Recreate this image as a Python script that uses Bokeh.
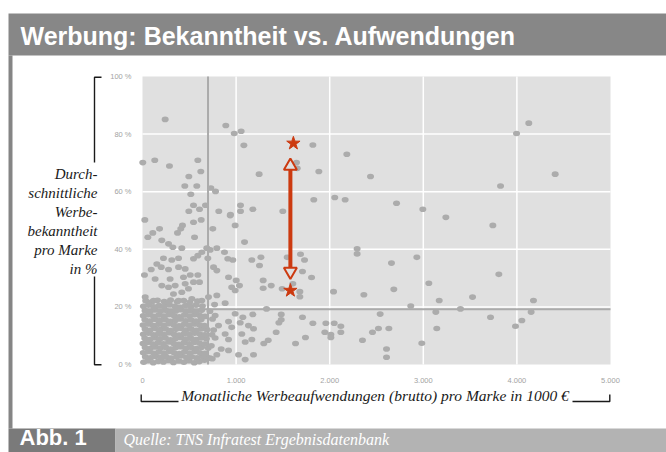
from bokeh.plotting import figure
from bokeh.models import Range1d, ColumnDataSource
from bokeh.core.properties import value
from bokeh.embed import file_html
from bokeh.resources import INLINE

# ---------------- data (spend in 1000 EUR per month, awareness in %) ----------------
dense_block = [
    (12, 0.8), (58, 1.3), (115, 0.6), (168, 1.1), (224, 0.9), (279, 1.4), (331, 0.7), (389, 1.2), (442, 0.8), (498, 1.3), (553, 0.6), (607, 1.0), (662, 1.5),
    (30, 2.7), (86, 2.3), (140, 2.9), (197, 2.4), (252, 2.8), (305, 2.2), (362, 2.6), (416, 3.0), (470, 2.4), (526, 2.7), (581, 2.3), (636, 2.9), (690, 2.5),
    (8, 4.1), (63, 4.5), (119, 3.9), (174, 4.4), (229, 4.0), (284, 4.6), (338, 4.1), (394, 3.8), (449, 4.4), (505, 4.0), (558, 4.5), (614, 4.1), (668, 3.9),
    (28, 5.9), (82, 5.5), (137, 6.1), (193, 5.7), (248, 6.0), (301, 5.4), (357, 5.9), (412, 6.2), (466, 5.6), (522, 5.9), (577, 5.5), (631, 6.0), (702, 5.7),
    (5, 7.3), (58, 7.7), (113, 7.1), (168, 7.6), (224, 7.2), (279, 7.8), (333, 7.3), (389, 7.0), (444, 7.6), (500, 7.2), (553, 7.7), (609, 7.4), (664, 7.1),
    (24, 9.1), (80, 8.7), (134, 9.3), (189, 8.9), (245, 9.2), (299, 8.6), (354, 9.0), (410, 9.4), (463, 8.8), (519, 9.1), (573, 8.7), (628, 9.2), (683, 8.9),
    (9, 10.5), (63, 10.9), (117, 10.3), (172, 10.8), (228, 10.4), (282, 11.0), (337, 10.5), (392, 10.2), (447, 10.8), (502, 10.4), (556, 10.9), (611, 10.6), (665, 10.3),
    (27, 12.3), (81, 11.9), (136, 12.5), (191, 12.1), (246, 12.4), (301, 11.8), (356, 12.2), (411, 12.6), (465, 12.0), (520, 12.3), (575, 11.9), (630, 12.4), (689, 12.1),
    (6, 13.7), (61, 14.1), (115, 13.5), (170, 14.0), (226, 13.6), (280, 14.2), (335, 13.7), (390, 13.4), (444, 14.0), (499, 13.6), (554, 14.1), (608, 13.8), (662, 13.5),
    (25, 15.5), (79, 15.1), (134, 15.7), (189, 15.3), (244, 15.6), (298, 15.0), (353, 15.4), (408, 15.8), (462, 15.2), (517, 15.5), (572, 15.1), (627, 15.6),
    (8, 16.9), (63, 17.3), (118, 16.7), (173, 17.2), (228, 16.8), (283, 17.4), (338, 16.9), (393, 16.6), (447, 17.2), (502, 16.8), (557, 17.3), (612, 17.0), (668, 16.7),
    (27, 18.7), (82, 18.3), (137, 18.9), (192, 18.5), (247, 18.8), (302, 18.2), (357, 18.6), (412, 19.0), (466, 18.4), (521, 18.7), (576, 18.3), (631, 18.8),
    (10, 20.2), (64, 20.6), (120, 20.0), (176, 20.5), (231, 20.1), (288, 20.7), (345, 20.2), (402, 19.9), (459, 20.5), (515, 20.1), (572, 20.6), (640, 20.3),
    (35, 22.1), (98, 21.7), (160, 22.3), (232, 21.9), (300, 22.4), (371, 21.8), (440, 22.2), (505, 21.6), (588, 22.0),
]

upper_left = [
    (242, 85.1), (890, 83.0), (980, 80.2), (1054, 81.0), (1083, 76.1), (3, 70.1), (131, 70.9), (288, 68.9),
    (591, 70.9), (623, 67.0), (495, 65.3), (1246, 66.1), (452, 62.0), (580, 62.0), (516, 59.1), (730, 61.3),
    (780, 60.1), (545, 55.3), (495, 53.2), (609, 53.9), (673, 55.3), (815, 53.2), (940, 52.1), (1047, 55.3),
    (1047, 53.2), (1179, 53.9), (25, 50.2), (627, 50.2), (545, 49.4), (427, 48.3), (409, 47.1), (374, 45.7),
    (182, 47.1), (110, 45.7), (57, 44.2), (556, 44.2), (751, 47.1), (990, 48.3), (937, 51.7), (206, 43.1),
    (278, 41.9), (324, 40.7), (420, 40.4), (1090, 42.5), (687, 40.4), (723, 39.8), (794, 40.4), (634, 39.0),
    (591, 37.8), (545, 36.7), (698, 36.9), (876, 39.0), (911, 36.7), (965, 36.3), (1168, 36.3), (1250, 34.4),
    (224, 36.9), (313, 36.3), (385, 36.9), (153, 34.9), (200, 33.8), (278, 33.0), (93, 33.0), (21, 31.1),
    (385, 33.8), (456, 33.2), (510, 31.1), (591, 31.1), (759, 33.8), (794, 32.6), (919, 30.3), (1001, 29.2),
    (953, 26.8), (990, 25.7), (1036, 27.4), (135, 29.7), (295, 29.7), (438, 30.3), (206, 27.4), (278, 26.8),
    (349, 27.4), (456, 28.0), (545, 28.6), (609, 28.6), (491, 26.3), (420, 25.1), (331, 24.5), (29, 23.4),
    (118, 22.2), (278, 21.6), (385, 22.2), (527, 22.8), (634, 22.2), (705, 23.4), (794, 24.0), (883, 21.3),
]

lower_mid = [
    (990, 17.6), (1072, 16.4), (1179, 17.4), (776, 17.0), (812, 13.5), (919, 14.9), (953, 12.9), (1044, 14.5),
    (1132, 13.5), (1186, 12.4), (883, 10.6), (1061, 10.6), (776, 9.2), (919, 8.7), (1097, 7.8), (1168, 8.7),
    (841, 5.4), (919, 4.9), (794, 3.4), (1026, 3.4), (1186, 3.4), (1097, 1.7), (723, 2.2), (745, 2.0),
    (735, 6.5), (760, 12.0), (748, 15.8), (720, 18.5), (770, 20.8), (742, 10.3),
]

middle = [
    (1820, 76.2), (2183, 73.0), (1645, 70.1), (1653, 68.1), (1884, 67.0), (1830, 57.2), (2054, 58.0),
    (2165, 57.2), (1499, 53.2), (2293, 40.2), (2293, 38.4), (1265, 37.2), (1688, 38.3), (1731, 36.3),
    (1546, 37.2), (1709, 32.3), (1806, 30.2), (1289, 29.2), (1289, 26.5), (1375, 27.4), (1492, 26.3),
    (1606, 28.0), (1681, 25.3), (1681, 23.5), (2041, 25.3), (2365, 24.2), (1325, 19.3), (1482, 17.4),
    (1482, 15.5), (1457, 14.5), (1709, 16.4), (1820, 14.3), (1959, 14.3), (2048, 14.3), (2119, 13.3),
    (2119, 11.2), (1948, 11.2), (2012, 10.4), (2012, 9.4), (1428, 11.2), (1741, 9.4), (1635, 7.3),
    (2350, 8.4), (1343, 8.4), (1296, 7.3), (2607, 2.5),
]

right_side = [
    (4127, 83.8), (3996, 80.2), (4409, 66.1), (3825, 62.0), (2436, 65.3), (2714, 56.0), (2995, 53.9),
    (3241, 51.1), (3743, 48.3), (2931, 37.2), (2660, 35.2), (3807, 31.3), (3059, 28.2), (2685, 26.1),
    (3526, 23.4), (3170, 22.2), (4177, 22.2), (2866, 20.3), (3397, 19.3), (2539, 17.5), (3134, 18.2),
    (4152, 18.2), (3718, 16.4), (4053, 15.3), (3985, 13.3), (2521, 12.5), (2632, 12.5), (3144, 12.5),
    (2457, 11.2), (2984, 7.4), (2607, 5.4),
]

# highlighted brand (before / after) and the arrow between them (head centres)
highlight_spend = [1580, 1612]
highlight_awareness = [25.7, 76.8]
arrow_spend = 1580
arrow_from = 32.3
arrow_to = 68.9

# averages (reference lines)
mean_spend = 700
mean_awareness = 19.2

x_ticks = [0, 1000, 2000, 3000, 4000, 5000]
x_tick_labels = ["0", "1.000", "2.000", "3.000", "4.000", "5.000"]
y_ticks = [0, 20, 40, 60, 80, 100]
y_tick_labels = ["0 %", "20 %", "40 %", "60 %", "80 %", "100 %"]

title_text = "Werbung: Bekanntheit vs. Aufwendungen"
y_title_lines = ["Durch-", "schnittliche", "Werbe-", "bekanntheit", "pro Marke", "in %"]
x_title = "Monatliche Werbeaufwendungen (brutto) pro Marke in 1000 €"
fig_label = "Abb. 1"
source_text = "Quelle: TNS Infratest Ergebnisdatenbank"

# ---------------- page canvas (pixel coordinates, y downwards) ----------------
CW, CH = 666, 452
p = figure(width=CW, height=CH, x_range=Range1d(0, CW), y_range=Range1d(CH, 0),
           x_axis_location=None, y_axis_location=None, min_border=0,
           output_backend="svg", toolbar_location=None)
p.grid.grid_line_color = None
p.outline_line_color = None
p.background_fill_color = "white"
p.border_fill_color = "white"

# plot area in page pixels
PL, PR, PT, PB = 142, 610, 76, 364
data_x = Range1d(x_ticks[0], x_ticks[-1])
data_y = Range1d(y_ticks[0], y_ticks[-1])
area_x = Range1d(PL, PR)
area_y = Range1d(PB, PT)
sub = p.subplot(x_source=data_x, y_source=data_y, x_target=area_x, y_target=area_y)
sub_x = p.subplot(x_source=data_x, y_source=p.y_range, x_target=area_x, y_target=p.y_range)
sub_y = p.subplot(x_source=p.x_range, y_source=data_y, x_target=p.x_range, y_target=area_y)

# ---------------- frame decorations ----------------
p.quad(left=[8, 8, 8, 115], right=[CW, 12, 115, CW], top=[13, 55, 428, 428],
       bottom=[55, 428, CH, CH], fill_color=["#878787", "#858585", "#7a7a7a", "#b3b3b3"],
       line_color=None)

INK = "#1a1a1a"
p.multi_line(xs=[[101, 94, 94], [94, 94, 101], [178, 140.7, 140.7], [572, 609.3, 609.3]],
             ys=[[76.7, 76.7, 162], [276, 364.3, 364.3], [401, 401, 394], [401, 401, 394]],
             line_color=INK, line_width=1.4)

# ---------------- chart ----------------
sub.quad(left=[x_ticks[0]], right=[x_ticks[-1]], bottom=[y_ticks[0]], top=[y_ticks[-1]],
         fill_color="#e0e0e0", line_color=None)
gx = x_ticks[1:-1]
gy = y_ticks[1:-1]
sub.segment(x0=gx, y0=[y_ticks[0]] * len(gx), x1=gx, y1=[y_ticks[-1]] * len(gx),
            line_color="white", line_width=1.5)
sub.segment(x0=[x_ticks[0]] * len(gy), y0=gy, x1=[x_ticks[-1]] * len(gy), y1=gy,
            line_color="white", line_width=1.5)
sub.segment(x0=[mean_spend, x_ticks[0]], y0=[y_ticks[0], mean_awareness],
            x1=[mean_spend, x_ticks[-1]], y1=[y_ticks[-1], mean_awareness],
            line_color="#ababab", line_width=2)

all_points = dense_block + upper_left + lower_mid + middle + right_side
src = ColumnDataSource(dict(x=[pt[0] for pt in all_points], y=[pt[1] for pt in all_points]))
sub.ellipse(x="x", y="y", width=7, height=5.6, width_units="screen", height_units="screen",
            source=src, fill_color="#acacac", line_color=None)

RED = "#cc3a10"
sub.segment(x0=[arrow_spend], y0=[arrow_from], x1=[arrow_spend], y1=[arrow_to],
            line_color=RED, line_width=4)
sub.scatter(x=[arrow_spend, arrow_spend], y=[arrow_to, arrow_from],
            marker=["triangle", "inverted_triangle"], size=13,
            fill_color="#e0e0e0", line_color=RED, line_width=2)
sub.scatter(highlight_spend, highlight_awareness, marker="star", size=14,
            fill_color=RED, line_color=RED)

# tick labels
TICK = dict(text_font=value("Liberation Sans"), text_font_size="7.5px", text_color="#a3a3a3")
sub_x.text(x=x_ticks, y=[380.4] * len(x_ticks), text=x_tick_labels, text_align="center",
           text_baseline="alphabetic", **TICK)
sub_y.text(x=[131] * len(y_ticks), y=y_ticks, text=y_tick_labels, text_align="right",
           text_baseline="middle", **TICK)

# ---------------- texts ----------------
p.text(x=[20], y=[35], text=[title_text], text_color="white",
       text_font=value("Liberation Sans"), text_font_style="bold", text_font_size="25px",
       text_baseline="alphabetic")
p.text(x=[97] * len(y_title_lines), y=[173.5 + 19 * i for i in range(len(y_title_lines))],
       text=y_title_lines, text_color=INK, text_font=value("Liberation Serif"),
       text_font_style="italic", text_font_size="15px", text_align="right",
       text_baseline="alphabetic")
p.text(x=[374.5], y=[394.8], text=[x_title], text_color=INK,
       text_font=value("Liberation Serif"), text_font_style="italic", text_font_size="15.5px",
       text_align="center", text_baseline="alphabetic")
p.text(x=[19], y=[436.8], text=[fig_label], text_color="white",
       text_font=value("Liberation Sans"), text_font_style="bold", text_font_size="22px",
       text_baseline="alphabetic")
p.text(x=[123], y=[439.2], text=[source_text], text_color="white",
       text_font=value("Liberation Serif"), text_font_style="italic", text_font_size="16px",
       text_baseline="alphabetic")

open("out.html", "w").write(file_html(p, INLINE))
